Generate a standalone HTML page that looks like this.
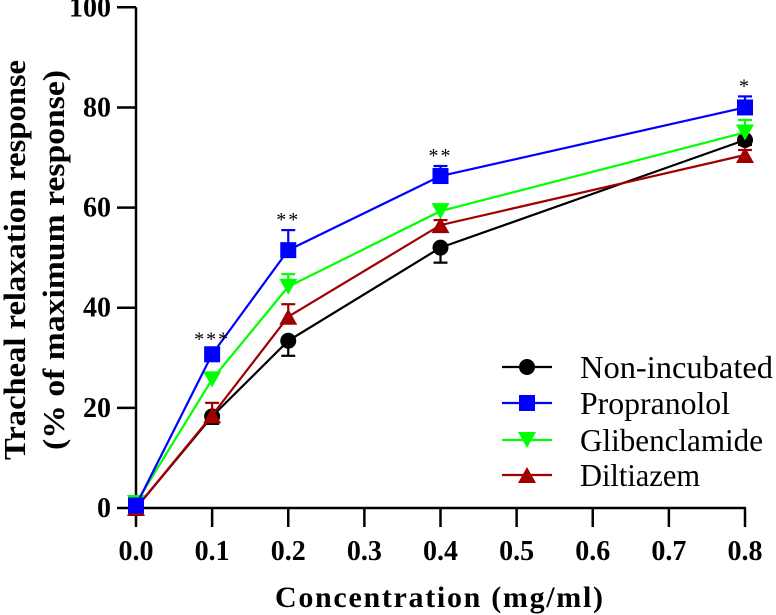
<!DOCTYPE html>
<html><head><meta charset="utf-8"><style>
body{margin:0;background:#fff}
svg{display:block;font-family:"Liberation Serif",serif}
</style></head><body>
<svg id="chart" width="776" height="615" viewBox="0 0 776 615" xmlns="http://www.w3.org/2000/svg"></svg>
<script>
const xCats=[0,0.1,0.2,0.4,0.8];
const xTicks=[0,0.1,0.2,0.3,0.4,0.5,0.6,0.7,0.8];
const yTicks=[0,20,40,60,80,100];
const seriesNames=["Non-incubated","Propranolol","Glibenclamide","Diltiazem"];
const nonIncubated=[0,18.3,33.4,52,73.5];
const nonIncubatedErr=[-0.5,-1.5,-3,-3,-1];
const propranolol=[0.5,30.7,51.5,66.3,80];
const propranololErr=[0.5,1,4,2,2.2];
const glibenclamide=[1,25.7,44.2,59.3,75];
const glibenclamideErr=[0.5,1,2.5,1,2.5];
const diltiazem=[0,18.5,38.2,56.5,70.5];
const diltiazemErr=[-1,2.5,2.5,1,1];
const sigLabels=["","***","**","**","*"];

const NS="http://www.w3.org/2000/svg";
const svg=document.getElementById('chart');
const X=v=>136+v/0.8*609;
const Y=v=>508-v*5.007;
function el(t,a,p){const e=document.createElementNS(NS,t);for(const k in a)e.setAttribute(k,a[k]);(p||svg).appendChild(e);return e;}

const ax=el('g',{});


el('line',{x1:136,y1:Y(100),x2:136,y2:508,stroke:'#000','stroke-width':2.5},ax);
el('line',{x1:136,y1:508,x2:746,y2:508,stroke:'#000','stroke-width':2.5},ax);
yTicks.forEach(v=>{
  el('line',{x1:117,y1:Y(v),x2:136,y2:Y(v),stroke:'#000','stroke-width':2.5},ax);
  const t=el('text',{x:111,y:Y(v)+9,'text-anchor':'end','font-size':28,'font-weight':'bold'},ax);
  
  
  t.textContent=v;
});
xTicks.forEach(v=>{
  el('line',{x1:X(v),y1:508,x2:X(v),y2:527,stroke:'#000','stroke-width':2.5},ax);
  const t=el('text',{x:X(v),y:560,'text-anchor':'middle','font-size':28,'font-weight':'bold'},ax);
  
  
  t.textContent=v.toFixed(1);
});
const xt=el('text',{x:275,y:607,'font-size':30,'font-weight':'bold',textLength:328,lengthAdjust:'spacing'});


xt.textContent='Concentration (mg/ml)';
const yt=el('text',{transform:'translate(25,260) rotate(-90)','text-anchor':'middle','font-size':31,'font-weight':'bold',textLength:400,lengthAdjust:'spacingAndGlyphs'});


yt.textContent='Tracheal relaxation response';
const yt2=el('text',{transform:'translate(64,260) rotate(-90)','text-anchor':'middle','font-size':31,'font-weight':'bold',textLength:380,lengthAdjust:'spacingAndGlyphs'});


yt2.textContent='(% of maximum response)';

function marker(g,type,cx,cy,c,s){
  if(type==='circle')return el('circle',{cx:cx,cy:cy,r:s,fill:c},g);
  if(type==='square')return el('rect',{x:cx-s,y:cy-s,width:2*s,height:2*s,fill:c},g);
  if(type==='down')return el('polygon',{points:`${cx-s-1},${cy-s} ${cx+s+1},${cy-s} ${cx},${cy+s}`,fill:c},g);
  return el('polygon',{points:`${cx-s-1},${cy+s} ${cx+s+1},${cy+s} ${cx},${cy-s}`,fill:c},g);
}
const series=[
 {vals:nonIncubated,err:nonIncubatedErr,c:'#000000',m:'circle',s:8,n:'non-incubated'},
 {vals:diltiazem,err:diltiazemErr,c:'#a00000',m:'up',s:8,n:'diltiazem'},
 {vals:glibenclamide,err:glibenclamideErr,c:'#00ff00',m:'down',s:8,n:'glibenclamide'},
 {vals:propranolol,err:propranololErr,c:'#0000ff',m:'square',s:8,n:'propranolol'},
];
series.forEach(sr=>{
  const g=el('g',{});
  
  
  el('polyline',{points:xCats.map((x,i)=>X(x)+','+Y(sr.vals[i])).join(' '),fill:'none',stroke:sr.c,'stroke-width':2.2},g);
  xCats.forEach((x,i)=>{
    const y1=Y(sr.vals[i]),y2=Y(sr.vals[i]+sr.err[i]);
    el('line',{x1:X(x),y1:y1,x2:X(x),y2:y2,stroke:sr.c,'stroke-width':2.2},g);
    el('line',{x1:X(x)-7,y1:y2,x2:X(x)+7,y2:y2,stroke:sr.c,'stroke-width':2.2},g);
    const m=marker(g,sr.m,X(x),y1,sr.c,sr.s);
    
    
  });
});
xCats.forEach((x,i)=>{
  if(!sigLabels[i])return;
  const t=el('text',{x:X(x),y:Y(propranolol[i]+propranololErr[i])-4,'text-anchor':'middle','font-size':20,'letter-spacing':2});
  
  
  t.textContent=sigLabels[i];
});
const lg=el('g',{});


const legItems=[['circle','#000000'],['square','#0000ff'],['down','#00ff00'],['up','#a00000']];
const legY=[367,403,440,475];
const legW=[193,150,183,120];
legItems.forEach((it,i)=>{
  const g=el('g',{},lg);
  
  
  el('line',{x1:502,y1:legY[i],x2:552,y2:legY[i],stroke:it[1],'stroke-width':2.2},g);
  marker(g,it[0],527,legY[i],it[1],8);
  const t=el('text',{x:580,y:legY[i]+11,'font-size':32,textLength:legW[i],lengthAdjust:'spacingAndGlyphs'},g);
  t.textContent=seriesNames[i];
});
</script>
</body></html>
